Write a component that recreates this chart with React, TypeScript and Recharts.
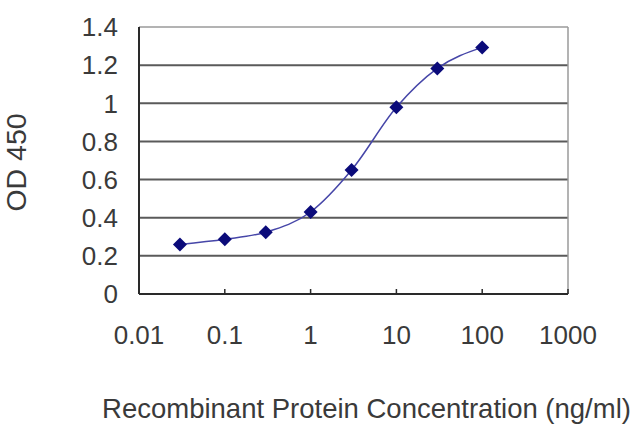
import React from 'react';
import { LineChart, Line, XAxis, YAxis, ReferenceLine, Label } from 'recharts';

const concentrations = [0.03, 0.1, 0.3, 1, 3, 10, 30, 100];
const od450 = [0.26, 0.287, 0.324, 0.43, 0.65, 0.979, 1.183, 1.293];
const xTicks = [0.01, 0.1, 1, 10, 100, 1000];
const yTicks = [0, 0.2, 0.4, 0.6, 0.8, 1, 1.2, 1.4];
const gridValues = [0.2, 0.4, 0.6, 0.8, 1, 1.2];
const xTitle = 'Recombinant Protein Concentration (ng/ml)';
const yTitle = 'OD 450';

const data = concentrations.map((c, i) => ({ conc: c, od: od450[i] }));

const FONT = '"Liberation Sans", Arial, sans-serif';
const TEXT = '#3a3a3a';

const Diamond = (props: any) => {
  const { cx, cy } = props;
  if (cx == null || cy == null) return null;
  const r = 7;
  return (
    <path
      d={`M${cx},${cy - r}L${cx + r},${cy}L${cx},${cy + r}L${cx - r},${cy}Z`}
      fill="#0b0b7a"
    />
  );
};

const XTitle = (p: any) => {
  const vb = p.viewBox || {};
  return (
    <text
      x={vb.x + vb.width / 2 + 13}
      y={vb.y + 124}
      textAnchor="middle"
      fontFamily={FONT}
      fontSize={27.5}
      fill={TEXT}
    >
      {xTitle}
    </text>
  );
};

const YTitle = (p: any) => {
  const vb = p.viewBox || {};
  const cx = vb.x + 16;
  const cy = vb.y + vb.height / 2 + 2;
  return (
    <text
      x={cx}
      y={cy}
      textAnchor="middle"
      dominantBaseline="central"
      transform={`rotate(-90 ${cx} ${cy})`}
      fontFamily={FONT}
      fontSize={28.5}
      fill={TEXT}
    >
      {yTitle}
    </text>
  );
};

export default function App() {
  return (
    <div style={{ position: 'absolute', left: 0, top: 0, background: '#fff' }}>
      <LineChart
        width={640}
        height={427}
        data={data}
        margin={{ top: 27, right: 72, bottom: 0, left: 0 }}
      >
        {gridValues.map((v) => (
          <ReferenceLine key={v} y={v} stroke="#5a5a5a" strokeWidth={2} ifOverflow="visible" />
        ))}
        <ReferenceLine y={1.4} stroke="#9a9a9a" strokeWidth={1.5} ifOverflow="visible" />
        <ReferenceLine x={1000} stroke="#9a9a9a" strokeWidth={1.5} ifOverflow="visible" />
        <XAxis
          dataKey="conc"
          type="number"
          scale="log"
          domain={[0.01, 1000]}
          allowDataOverflow
          ticks={xTicks}
          tickFormatter={(v: number) => String(v)}
          height={133}
          tickSize={-5}
          tickMargin={37}
          axisLine={{ stroke: '#2a2a2a', strokeWidth: 2 }}
          tickLine={{ stroke: '#2a2a2a', strokeWidth: 1.5 }}
          tick={{ fontFamily: FONT, fontSize: 26, fill: TEXT }}
          interval={0}
        >
          <Label content={XTitle} />
        </XAxis>
        <YAxis
          type="number"
          domain={[0, 1.4]}
          ticks={yTicks}
          width={139}
          tickLine={false}
          tickSize={0}
          tickMargin={21}
          axisLine={{ stroke: '#2a2a2a', strokeWidth: 2 }}
          tick={{ fontFamily: FONT, fontSize: 26, fill: TEXT }}
          interval={0}
        >
          <Label content={YTitle} />
        </YAxis>
        <Line
          dataKey="od"
          type="monotone"
          stroke="#4646a8"
          strokeWidth={1.5}
          dot={<Diamond />}
          activeDot={false}
          isAnimationActive={false}
        />
      </LineChart>
    </div>
  );
}
